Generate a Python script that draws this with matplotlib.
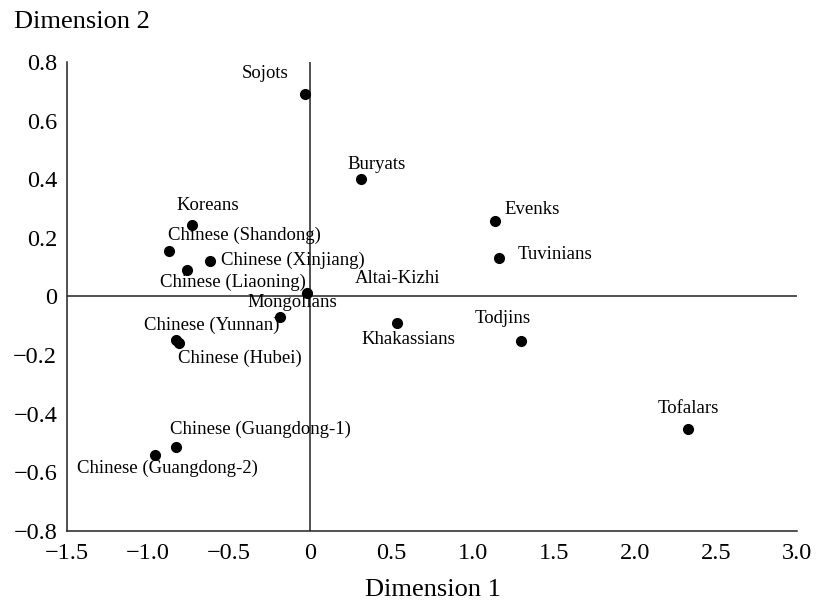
import matplotlib
matplotlib.use("Agg")
import matplotlib.pyplot as plt

plt.rcParams['font.family'] = ['Liberation Serif', 'DejaVu Serif']

names = ["Sojots", "Buryats", "Koreans", "Chinese (Shandong)", "Chinese (Xinjiang)",
         "Chinese (Liaoning)", "Altai-Kizhi", "Mongolians", "Chinese (Yunnan)",
         "Chinese (Hubei)", "Chinese (Guangdong-1)", "Chinese (Guangdong-2)",
         "Khakassians", "Evenks", "Tuvinians", "Todjins", "Tofalars"]
dim1 = [-0.03, 0.31, -0.73, -0.87, -0.62, -0.76, -0.02, -0.19, -0.83, -0.81,
        -0.83, -0.96, 0.535, 1.14, 1.16, 1.30, 2.33]
dim2 = [0.69, 0.40, 0.245, 0.154, 0.122, 0.089, 0.013, -0.07, -0.147, -0.16,
        -0.513, -0.541, -0.092, 0.257, 0.131, -0.152, -0.452]

# label offsets (pixels) and alignment
offsets = [(-40, 21, 'center'), (16, 15, 'center'), (16, 19, 'center'),
           (75, 16, 'center'), (11, 0, 'left'), (46, -12, 'center'),
           (90, 14, 'center'), (13, 15, 'center'), (36, 14, 'center'),
           (61, -15, 'center'), (85, 18, 'center'), (13, -13, 'center'),
           (11, -16, 'center'), (9, 12, 'left'), (19, 4, 'left'),
           (-19, 23, 'center'), (0, 20, 'center')]

xticks = [-1.5, -1.0, -0.5, 0, 0.5, 1.0, 1.5, 2.0, 2.5, 3.0]
xticklabels = ["\u22121.5", "\u22121.0", "\u22120.5", "0", "0.5", "1.0", "1.5", "2.0", "2.5", "3.0"]
yticks = [0.8, 0.6, 0.4, 0.2, 0, -0.2, -0.4, -0.6, -0.8]
yticklabels = ["0.8", "0.6", "0.4", "0.2", "0", "\u22120.2", "\u22120.4", "\u22120.6", "\u22120.8"]

fig = plt.figure(figsize=(8.16, 6.02), dpi=100)
ax = fig.add_axes([0.082, 0.118, 0.895, 0.779])
ax.set_xlim(-1.5, 3.0)
ax.set_ylim(-0.8, 0.8)

lc = '#222222'
ax.axhline(0, color=lc, lw=1.1, zorder=1)
ax.axvline(0, color=lc, lw=1.1, zorder=1)
ax.plot(dim1, dim2, 'o', color='black', markersize=7, zorder=3, linestyle='none')

for n, x, y, (dx, dy, ha) in zip(names, dim1, dim2, offsets):
    ax.annotate(n, (x, y), xytext=(dx, dy), textcoords='offset pixels',
                ha=ha, va='center', fontsize=13.5, zorder=4)

for s in ['top', 'right']:
    ax.spines[s].set_visible(False)
for s in ['left', 'bottom']:
    ax.spines[s].set_color(lc)
    ax.spines[s].set_linewidth(1.1)

ax.set_xticks(xticks)
ax.set_xticklabels(xticklabels)
ax.set_yticks(yticks)
ax.set_yticklabels(yticklabels)
ax.tick_params(length=0, labelsize=17.5, pad=7)
ax.tick_params(axis='x', pad=9)

fig.text(0.017, 0.963, "Dimension 2", fontsize=19, ha='left', va='center')
fig.text(0.531, 0.020, "Dimension 1", fontsize=19, ha='center', va='center')

fig.savefig("out.png", dpi=100)
